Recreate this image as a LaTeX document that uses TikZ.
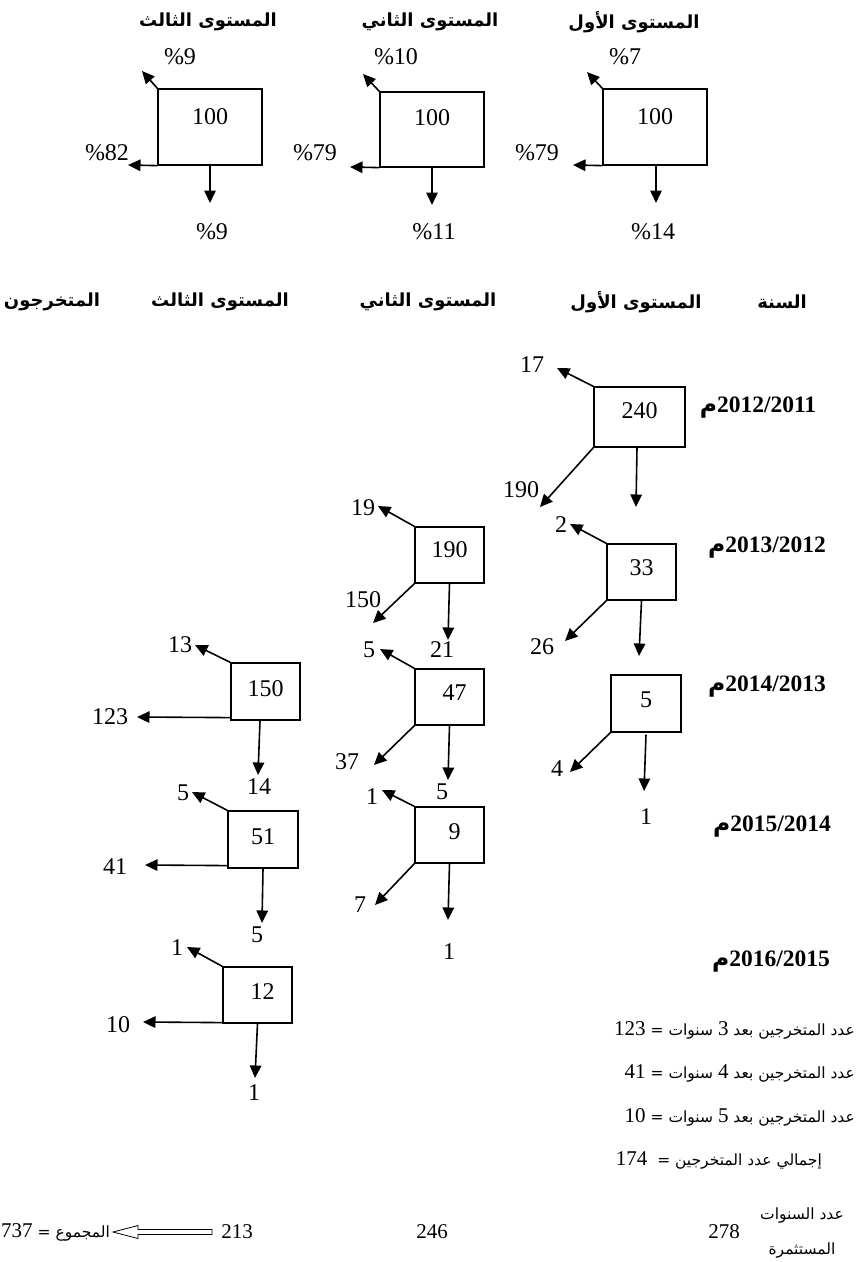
\documentclass[tikz,border=0pt]{standalone}
\usepackage{fontspec}
\setmainfont{Liberation Serif}
\newfontfamily\arabicfont[Script=Arabic]{DejaVu Sans}
\usetikzlibrary{arrows.meta,calc}
\TeXXeTstate=1
\begin{document}
\begin{tikzpicture}[x=1pt,y=-1pt,
  num/.style={font=\fontsize{24}{26}\selectfont, inner sep=0pt},
  box/.style={draw, line width=1.2pt, inner sep=0pt},
  arr/.style={line width=1.6pt, -{Triangle[length=12.5pt,width=11.5pt]}},
  hdr/.style={font=\arabicfont\bfseries\fontsize{18}{20}\selectfont, inner sep=0pt},
  yr/.style={font=\bfseries\fontsize{23.5}{26}\selectfont, inner sep=0pt},
  note/.style={font=\arabicfont\fontsize{15.5}{18}\selectfont, inner sep=0pt},
  dig/.style={font=\fontsize{21}{22}\selectfont, inner sep=0pt}]
\useasboundingbox (0,0) rectangle (860,1262);

% ---------- top headers ----------
\node[hdr] (h1) at (634,22) {\beginR المستوى الأول\endR};
\node[hdr] (h2) at (430,22) {\beginR المستوى الثاني\endR};
\node[hdr] (h3) at (208,22) {\beginR المستوى الثالث\endR};

% ---------- top boxes ----------
\node[box, minimum width=104pt, minimum height=76pt, label={[num,yshift=10pt]center:100}] (t1) at (655,127) {};
\node[box, minimum width=104pt, minimum height=75pt, label={[num,yshift=11.5pt]center:100}] (t2) at (432,129.5) {};
\node[box, minimum width=104pt, minimum height=76pt, label={[num,yshift=10pt]center:100}] (t3) at (210,127) {};

\coordinate (t1u) at (587,72);  \coordinate (t1l) at (573,165); \coordinate (t1d) at (656,203);
\coordinate (t2u) at (363,74);  \coordinate (t2l) at (350,167); \coordinate (t2d) at (432,205);
\coordinate (t3u) at (142,71);  \coordinate (t3l) at (128,165); \coordinate (t3d) at (210,203);
\draw[arr] (t1.north west) -- (t1u);
\draw[arr] (t1.south west) -- (t1l);
\draw[arr] ([xshift=1pt]t1.south) -- (t1d);
\draw[arr] (t2.north west) -- (t2u);
\draw[arr] (t2.south west) -- (t2l);
\draw[arr] (t2.south) -- (t2d);
\draw[arr] (t3.north west) -- (t3u);
\draw[arr] (t3.south west) -- (t3l);
\draw[arr] (t3.south) -- (t3d);

\node[num] (p1u) at (625,57) {\%7};
\node[num] (p1l) at (537,153) {\%79};
\node[num] (p1d) at (653,232) {\%14};
\node[num] (p2u) at (396,57) {\%10};
\node[num] (p2l) at (315,153) {\%79};
\node[num] (p2d) at (434,232) {\%11};
\node[num] (p3u) at (180,57) {\%9};
\node[num] (p3l) at (107,153) {\%82};
\node[num] (p3d) at (212,232) {\%9};

% ---------- column headers ----------
\node[hdr] (c0) at (782,302) {\beginR السنة\endR};
\node[hdr] (c1) at (636,302) {\beginR المستوى الأول\endR};
\node[hdr] (c2) at (428,302) {\beginR المستوى الثاني\endR};
\node[hdr] (c3) at (220,302) {\beginR المستوى الثالث\endR};
\node[hdr] (c4) at (52,302) {\beginR المتخرجون\endR};

% ---------- years ----------
\node[yr] (y1) at (758,408) {{\arabicfont م}2012/2011};
\node[yr] (y2) at (767,548) {{\arabicfont م}2013/2012};
\node[yr] (y3) at (767,687) {{\arabicfont م}2014/2013};
\node[yr] (y4) at (772,827) {{\arabicfont م}2015/2014};
\node[yr] (y5) at (771,962) {{\arabicfont م}2016/2015};

% ---------- first level column ----------
\node[box, minimum width=91pt, minimum height=60pt, label={[num,yshift=6pt]center:240}] (b240) at (639.5,417) {};
\coordinate (e240u) at (557,368); \coordinate (e240l) at (540,507); \coordinate (e240d) at (636,507);
\draw[arr] (b240.north west) -- (e240u);
\draw[arr] (b240.south west) -- (e240l);
\draw[arr] ([xshift=-2.5pt]b240.south) -- (e240d);
\node[num] (l17) at (532,365) {17};
\node[num] (l190a) at (521,490) {190};

\node[box, minimum width=69pt, minimum height=56pt, label={[num,yshift=4pt]center:33}] (b33) at (641.5,572) {};
\coordinate (e33u) at (570,524); \coordinate (e33l) at (565,641); \coordinate (e33d) at (639,656);
\draw[arr] (b33.north west) -- (e33u);
\draw[arr] (b33.south west) -- (e33l);
\draw[arr] (b33.south) -- (e33d);
\node[num] (l2) at (561,525) {2};
\node[num] (l26) at (542,647) {26};

\node[box, minimum width=70pt, minimum height=57pt, label={[num,yshift=3.5pt]center:5}] (b5) at (646,703.5) {};
\coordinate (e5l) at (570,772); \coordinate (e5d) at (644,791);
\draw[arr] (b5.south west) -- (e5l);
\draw[arr] ([yshift=-2pt]b5.south) -- (e5d);
\node[num] (l4) at (557,769) {4};
\node[num] (l1a) at (646,817) {1};

% ---------- second level column ----------
\node[box, minimum width=69pt, minimum height=56pt, label={[num,yshift=5pt]center:190}] (b190) at (449.5,555) {};
\coordinate (e190u) at (378,506); \coordinate (e190l) at (373,623); \coordinate (e190d) at (448,640);
\draw[arr] (b190.north west) -- (e190u);
\draw[arr] (b190.south west) -- (e190l);
\draw[arr] (b190.south) -- (e190d);
\node[num] (l19) at (363,508) {19};
\node[num] (l150a) at (363,600) {150};
\node[num] (l21) at (442,650) {21};

\node[box, minimum width=69pt, minimum height=56pt, label={[num,xshift=5pt,yshift=4pt]center:47}] (b47) at (449.5,697) {};
\coordinate (e47u) at (380,649); \coordinate (e47l) at (374,765); \coordinate (e47d) at (448,780);
\draw[arr] (b47.north west) -- (e47u);
\draw[arr] (b47.south west) -- (e47l);
\draw[arr] (b47.south) -- (e47d);
\node[num] (l5a) at (369,650) {5};
\node[num] (l37) at (347,762) {37};
\node[num] (l5b) at (442,792) {5};

\node[box, minimum width=69pt, minimum height=56pt, label={[num,xshift=5pt,yshift=3pt]center:9}] (b9) at (449.5,835) {};
\coordinate (e9u) at (382,790); \coordinate (e9l) at (375,905); \coordinate (e9d) at (448,920);
\draw[arr] (b9.north west) -- (e9u);
\draw[arr] (b9.south west) -- (e9l);
\draw[arr] (b9.south) -- (e9d);
\node[num] (l1b) at (372,797) {1};
\node[num] (l7) at (360,905) {7};
\node[num] (l1c) at (449,952) {1};

% ---------- third level column ----------
\node[box, minimum width=69pt, minimum height=57pt, label={[num,yshift=2.5pt]center:150}] (b150) at (265.5,691.5) {};
\coordinate (e150u) at (195,645); \coordinate (e150l) at (137,717); \coordinate (e150d) at (258,775);
\draw[arr] (b150.north west) -- (e150u);
\draw[arr] ([yshift=3pt]b150.south west) -- (e150l);
\draw[arr] ([xshift=-5.5pt]b150.south) -- (e150d);
\node[num] (l13) at (180,645) {13};
\node[num] (l123) at (110,717) {123};
\node[num] (l14) at (259,787) {14};

\node[box, minimum width=70pt, minimum height=57pt, label={[num,yshift=2.5pt]center:51}] (b51) at (263,839.5) {};
\coordinate (e51u) at (192,792); \coordinate (e51l) at (145,865); \coordinate (e51d) at (262,923);
\draw[arr] (b51.north west) -- (e51u);
\draw[arr] ([yshift=3pt]b51.south west) -- (e51l);
\draw[arr] (b51.south) -- (e51d);
\node[num] (l5c) at (183,793) {5};
\node[num] (l41) at (115,867) {41};
\node[num] (l5d) at (257,935) {5};

\node[box, minimum width=69pt, minimum height=56pt, label={[num,xshift=5pt,yshift=3pt]center:12}] (b12) at (257.5,995) {};
\coordinate (e12u) at (187,947); \coordinate (e12l) at (143,1022); \coordinate (e12d) at (255,1078);
\draw[arr] (b12.north west) -- (e12u);
\draw[arr] ([yshift=1pt]b12.south west) -- (e12l);
\draw[arr] (b12.south) -- (e12d);
\node[num] (l1d) at (177,948) {1};
\node[num] (l10) at (118,1025) {10};
\node[num] (l1e) at (254,1093) {1};

% ---------- summary texts ----------
\node[note, anchor=east] (n1) at (855,1030) {\beginR عدد المتخرجين بعد {\fontsize{21}{22}\rmfamily\beginL 3\endL} سنوات = {\fontsize{21}{22}\rmfamily\beginL 123\endL}\endR};
\node[note, anchor=east] (n2) at (855,1073) {\beginR عدد المتخرجين بعد {\fontsize{21}{22}\rmfamily\beginL 4\endL} سنوات = {\fontsize{21}{22}\rmfamily\beginL 41\endL}\endR};
\node[note, anchor=east] (n3) at (855,1117) {\beginR عدد المتخرجين بعد {\fontsize{21}{22}\rmfamily\beginL 5\endL} سنوات = {\fontsize{21}{22}\rmfamily\beginL 10\endL}\endR};
\node[note, anchor=east] (n4) at (822,1160) {\beginR إجمالي عدد المتخرجين = \ {\fontsize{21}{22}\rmfamily\beginL 174\endL}\endR};
\node[note] (n5) at (802,1215) {\beginR عدد السنوات\endR};
\node[note] (n6) at (802,1250) {\beginR المستثمرة\endR};

% ---------- bottom row ----------
\node[dig] (s278) at (724,1232) {278};
\node[dig] (s246) at (432,1232) {246};
\node[dig] (s213) at (237,1232) {213};
\node[note, anchor=east] (sum) at (110,1232) {\beginR المجموع = {\fontsize{21}{22}\rmfamily\beginL 737\endL}\endR};
\draw[line width=0.8pt] let \p1=([xshift=-9pt]s213.west), \p2=([xshift=3pt]sum.east) in
  (\x1,\y1+2.5pt) -- (\x2+25pt,\y1+2.5pt) -- (\x2+25pt,\y1+6.5pt) -- (\x2,\y1)
  -- (\x2+25pt,\y1-6.5pt) -- (\x2+25pt,\y1-2.5pt) -- (\x1,\y1-2.5pt) -- cycle;
\end{tikzpicture}
\end{document}
